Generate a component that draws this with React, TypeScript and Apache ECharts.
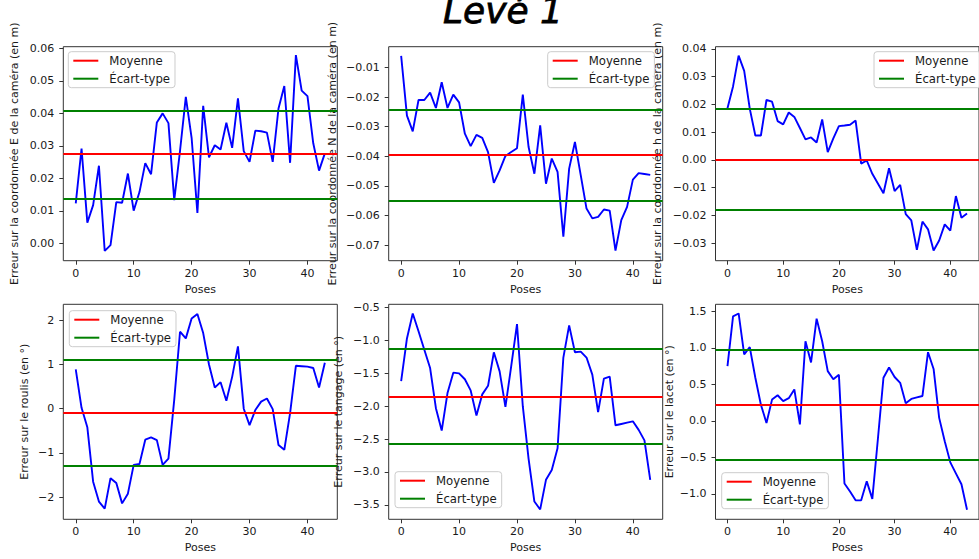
import React, { useEffect, useRef } from "react";
import * as echarts from "echarts";

// ---------------- data ----------------
const poses = Array.from({ length: 44 }, (_, i) => i);

const errE = [
  0.0123, 0.0292, 0.0064, 0.0118, 0.0239, -0.0023, -0.0005, 0.0127, 0.0125, 0.0215,
  0.0101, 0.0158, 0.0247, 0.0213, 0.0372, 0.04, 0.037, 0.0133, 0.0285, 0.0451,
  0.0325, 0.0094, 0.0423, 0.0265, 0.0302, 0.0289, 0.0371, 0.0294, 0.0446, 0.0284,
  0.0251, 0.0347, 0.0345, 0.0341, 0.0251, 0.0415, 0.0484, 0.0248, 0.0579, 0.047,
  0.0453, 0.0308, 0.0224, 0.0277,
];
const errN = [
  -0.0061, -0.0263, -0.0316, -0.021, -0.021, -0.0185, -0.0237, -0.015, -0.0237, -0.0192,
  -0.0218, -0.0324, -0.0366, -0.0328, -0.0338, -0.0386, -0.049, -0.0448, -0.0399, -0.0386,
  -0.0373, -0.0192, -0.0369, -0.0459, -0.0296, -0.0493, -0.0408, -0.0453, -0.0672, -0.0442,
  -0.0352, -0.0464, -0.0577, -0.061, -0.0605, -0.058, -0.0584, -0.0719, -0.0616, -0.0571,
  -0.0479, -0.0457, -0.046, -0.0463,
];
const errH = [
  0.0186, 0.0265, 0.0376, 0.0321, 0.0185, 0.0088, 0.0088, 0.0216, 0.021, 0.014,
  0.0128, 0.0171, 0.0155, 0.0115, 0.0074, 0.0081, 0.0063, 0.0146, 0.0028, 0.0078,
  0.0122, 0.0124, 0.0127, 0.0142, -0.0013, -0.0002, -0.005, -0.0085, -0.012, -0.003,
  -0.0112, -0.009, -0.0195, -0.0218, -0.0324, -0.0222, -0.025, -0.0326, -0.029, -0.0232,
  -0.0255, -0.013, -0.0208, -0.0193,
];
const errRoll = [
  0.89, 0.02, -0.42, -1.65, -2.1, -2.26, -1.57, -1.68, -2.14, -1.92,
  -1.27, -1.25, -0.7, -0.65, -0.71, -1.27, -1.13, 0.2, 1.74, 1.59,
  2.04, 2.14, 1.71, 1.0, 0.48, 0.6, 0.18, 0.72, 1.41, 0.0,
  -0.37, -0.03, 0.16, 0.23, -0.01, -0.82, -0.93, -0.1, 0.97, 0.96,
  0.95, 0.92, 0.48, 1.04,
];
const errPitch = [
  -1.62, -0.97, -0.59, -0.86, -1.14, -1.42, -2.03, -2.37, -1.8, -1.49,
  -1.5, -1.59, -1.76, -2.14, -1.82, -1.69, -1.18, -1.47, -2.01, -1.39,
  -0.75, -2.0, -2.8, -3.45, -3.57, -3.12, -2.97, -2.64, -1.26, -0.77,
  -1.18, -1.17, -1.26, -1.52, -2.09, -1.58, -1.55, -2.29, -2.27, -2.25,
  -2.23, -2.36, -2.52, -3.12,
];
const errYaw = [
  0.75, 1.43, 1.47, 0.91, 1.01, 0.59, 0.22, -0.03, 0.29, 0.35,
  0.27, 0.31, 0.43, -0.05, 1.09, 0.8, 1.4, 1.09, 0.68, 0.57,
  0.63, -0.86, -0.97, -1.09, -1.09, -0.83, -1.07, -0.25, 0.59, 0.73,
  0.6, 0.52, 0.24, 0.3, 0.32, 0.34, 0.94, 0.71, 0.04, -0.28,
  -0.57, -0.72, -0.87, -1.22,
];

const seriesValues = [errE, errN, errH, errRoll, errPitch, errYaw];

const meanValues = [0.0275, -0.0394, 0.0001, -0.09, -1.853, 0.213];
const stdUpperValues = [0.0409, -0.0242, 0.0186, 1.113, -1.12, 0.969];
const stdLowerValues = [0.0137, -0.055, -0.018, -1.286, -2.57, -0.533];

const yLabels = [
  "Erreur sur la coordonnée E de la caméra (en m)",
  "Erreur sur la coordonnée N de la caméra (en m)",
  "Erreur sur la coordonnée h de la caméra (en m)",
  "Erreur sur le roulis (en °)",
  "Erreur sur le tangage (en °)",
  "Erreur sur le lacet (en °)",
];
const xLabel = "Poses";
const titleText = "Levé 1";
const legendNames = ["Moyenne", "Écart-type"];

const xTicks = [0, 10, 20, 30, 40];
const yTicks = [
  [0, 0.01, 0.02, 0.03, 0.04, 0.05, 0.06],
  [-0.07, -0.06, -0.05, -0.04, -0.03, -0.02, -0.01],
  [-0.03, -0.02, -0.01, 0, 0.01, 0.02, 0.03, 0.04],
  [-2, -1, 0, 1, 2],
  [-3.5, -3, -2.5, -2, -1.5, -1, -0.5],
  [-1, -0.5, 0, 0.5, 1, 1.5],
];
const yDecimals = [2, 2, 2, 0, 1, 1];
const yMins = [-0.0053, -0.0753, -0.0363, -2.5, -3.72, -1.35];
const yMaxs = [0.0605, -0.003, 0.0408, 2.36, -0.45, 1.596];
const xMin = -2.15;
const xMax = 45.15;

// ---------------- layout ----------------
const W = 979;
const H = 559;
const colLeft = [63.3, 388.7, 715.5];
const gridWidth = 274;
const rowTop = [46.7, 304.3];
const rowHeight = [214, 215];
const yNameGaps = [43, 51, 53, 33, 45, 41];
const legendPos = [
  [68.3, 51.7],
  [547.7, 51.7],
  [874, 51.7],
  [69.3, 310.7],
  [395, 471.7],
  [721.7, 472.7],
];

const FONT = "DejaVu Sans";
const TXT = "#1a1a1a";
const AX = "#333333";

function fmt(v: number, d: number) {
  const s = Math.abs(v).toFixed(d);
  return (v < -1e-9 ? "\u2212" : "") + s;
}

function buildOption() {
  const grids: any[] = [];
  const xAxes: any[] = [];
  const yAxes: any[] = [];
  const series: any[] = [];
  const legends: any[] = [];

  for (let p = 0; p < 6; p++) {
    const r = Math.floor(p / 3);
    const c = p % 3;
    grids.push({
      left: colLeft[c],
      top: rowTop[r],
      width: gridWidth,
      height: rowHeight[r],
      show: true,
      borderColor: AX,
      borderWidth: 1,
      backgroundColor: "transparent",
      containLabel: false,
    });
    xAxes.push({
      type: "value",
      gridIndex: p,
      min: xMin,
      max: xMax,
      name: xLabel,
      nameLocation: "middle",
      nameGap: 23,
      nameTextStyle: { fontFamily: FONT, fontSize: 11, color: TXT },
      axisLine: { show: false, onZero: false },
      axisTick: { show: true, length: 4, inside: false, lineStyle: { color: AX, width: 1 }, customValues: xTicks },
      axisLabel: {
        show: true,
        customValues: xTicks,
        margin: 7,
        fontFamily: FONT,
        fontSize: 11,
        color: TXT,
        formatter: (v: number) => fmt(v, 0),
        showMinLabel: true,
        showMaxLabel: true,
      },
      splitLine: { show: false },
    });
    yAxes.push({
      type: "value",
      gridIndex: p,
      min: yMins[p],
      max: yMaxs[p],
      name: yLabels[p],
      nameLocation: "middle",
      nameGap: yNameGaps[p],
      nameRotate: 90,
      nameTextStyle: { fontFamily: FONT, fontSize: 11, color: TXT },
      axisLine: { show: false, onZero: false },
      axisTick: { show: true, length: 4, inside: false, lineStyle: { color: AX, width: 1 }, customValues: yTicks[p] },
      axisLabel: {
        show: true,
        customValues: yTicks[p],
        margin: 9,
        fontFamily: FONT,
        fontSize: 11,
        color: TXT,
        formatter: (v: number) => fmt(v, yDecimals[p]),
        showMinLabel: true,
        showMaxLabel: true,
      },
      splitLine: { show: false },
    });

    const vals = seriesValues[p];
    series.push({
      type: "line",
      name: "Erreur",
      xAxisIndex: p,
      yAxisIndex: p,
      data: poses.map((x, i) => [x, vals[i]]),
      showSymbol: false,
      symbol: "none",
      color: "#0000ff",
      lineStyle: { color: "#0000ff", width: 1.9 },
      silent: true,
      z: 2,
    });
    series.push({
      type: "line",
      name: legendNames[0],
      xAxisIndex: p,
      yAxisIndex: p,
      data: [],
      color: "#ff0000",
      lineStyle: { color: "#ff0000", width: 1.8 },
      z: 3,
      markLine: {
        silent: true,
        precision: 5,
        symbol: ["none", "none"],
        label: { show: false },
        emphasis: { disabled: true },
        lineStyle: { color: "#ff0000", width: 1.8, type: "solid" },
        data: [{ yAxis: meanValues[p] }],
      },
    });
    series.push({
      type: "line",
      name: legendNames[1],
      xAxisIndex: p,
      yAxisIndex: p,
      data: [],
      color: "#008000",
      lineStyle: { color: "#008000", width: 1.8 },
      z: 3,
      markLine: {
        silent: true,
        precision: 5,
        symbol: ["none", "none"],
        label: { show: false },
        emphasis: { disabled: true },
        lineStyle: { color: "#008000", width: 1.8, type: "solid" },
        data: [{ yAxis: stdUpperValues[p] }, { yAxis: stdLowerValues[p] }],
      },
    });

    legends.push({
      left: legendPos[p][0],
      top: legendPos[p][1],
      orient: "vertical",
      data: legendNames,
      icon: "rect",
      itemWidth: 25,
      itemHeight: 2,
      itemGap: 6,
      padding: [3, 5, 3, 5],
      selectedMode: false,
      backgroundColor: "rgba(255,255,255,0.85)",
      borderColor: "#cccccc",
      borderWidth: 1,
      borderRadius: 3,
      textStyle: { fontFamily: FONT, fontSize: 11.7, color: TXT, padding: [0, 0, 0, 6] },
    });
  }

  return {
    animation: false,
    backgroundColor: "#ffffff",
    textStyle: { fontFamily: FONT },
    grid: grids,
    xAxis: xAxes,
    yAxis: yAxes,
    legend: legends,
    series,
    graphic: [
      {
        type: "text",
        x: 503,
        y: 10,
        silent: true,
        style: {
          text: titleText,
          fontFamily: FONT,
          fontSize: 36,
          fontStyle: "italic",
          fill: "#000000",
          stroke: "#000000",
          lineWidth: 0.8,
          align: "center",
          verticalAlign: "middle",
        },
      },
    ],
  };
}

export default function App() {
  const ref = useRef<HTMLDivElement>(null);
  useEffect(() => {
    if (!ref.current) return;
    const chart = echarts.init(ref.current, null, { renderer: "svg", width: W, height: H });
    chart.setOption(buildOption() as any);
    return () => chart.dispose();
  }, []);
  return (
    <div
      ref={ref}
      style={{ position: "absolute", left: 0, top: 0, width: W, height: H, background: "#ffffff" }}
    />
  );
}
